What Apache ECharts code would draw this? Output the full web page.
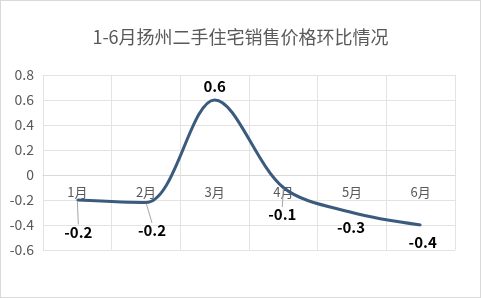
<!DOCTYPE html>
<html>
<head>
<meta charset="utf-8">
<script src="https://cdn.jsdelivr.net/npm/echarts@6/dist/echarts.min.js"></script>
<style>
html,body{margin:0;padding:0;background:#fff;}
#wrap{position:relative;width:481px;height:298px;}
#chart{position:absolute;left:0;top:0;width:481px;height:298px;}
#frame{position:absolute;left:0;top:0;width:481px;height:298px;box-sizing:border-box;border:1px solid #d9d9d9;pointer-events:none;}
</style>
</head>
<body>
<div id="wrap"><div id="chart"></div><div id="frame"></div></div>
<script>
var titleText = '1-6月扬州二手住宅销售价格环比情况';
var months = ['1月', '2月', '3月', '4月', '5月', '6月'];
var changes = [-0.2, -0.22, 0.6, -0.1, -0.3, -0.4];
var yMin = -0.6, yMax = 0.8, yStep = 0.2;

// label placement offsets (style only), relative to each point
var labelDx = [1, 6, 0, -1, -1, 2];
var labelDy = [32, 28, -14, 27, 15, 17];
var showGuide = [true, true, false, true, false, false];

var chart = echarts.init(document.getElementById('chart'), null, {renderer: 'canvas'});
var font = '"Microsoft YaHei","Noto Sans CJK SC","Noto Sans",sans-serif';

var seriesData = changes.map(function (v, i) {
  return {
    value: v,
    labelLine: {show: showGuide[i]}
  };
});

chart.setOption({
  animation: false,
  backgroundColor: '#fff',
  title: {
    text: titleText,
    left: 'center',
    top: 23,
    textStyle: {fontFamily: font, fontSize: 18, fontWeight: 'normal', color: '#595959'}
  },
  grid: {left: 43, right: 26, top: 75, bottom: 48, containLabel: false},
  xAxis: {
    type: 'category',
    data: months,
    boundaryGap: true,
    axisLine: {show: true, onZero: true, lineStyle: {color: '#d9d9d9', width: 1}},
    axisTick: {show: false},
    axisLabel: {color: '#595959', fontSize: 13, fontFamily: font, margin: 11},
    splitLine: {show: true, lineStyle: {color: '#e3e3e3', width: 1}}
  },
  yAxis: {
    type: 'value',
    min: yMin,
    max: yMax,
    interval: yStep,
    axisLine: {show: false},
    axisTick: {show: false},
    axisLabel: {
      color: '#595959', fontSize: 14, fontFamily: font, margin: 9,
      formatter: function (v) { return String(Math.round(v * 10) / 10); }
    },
    splitLine: {lineStyle: {color: '#e3e3e3', width: 1}}
  },
  series: [{
    type: 'line',
    data: seriesData,
    smooth: 0.33,
    smoothConstraint: false,
    symbol: 'circle',
    symbolSize: 2,
    itemStyle: {color: '#3b5b7e'},
    lineStyle: {color: '#3b5b7e', width: 3},
    label: {
      show: true,
      position: 'bottom',
      color: '#000',
      fontWeight: 'bold',
      fontSize: 15,
      fontFamily: font,
      formatter: function (p) { return p.value.toFixed(1); }
    },
    labelLine: {show: false, lineStyle: {color: '#a6a6a6', width: 1}},
    labelLayout: function (params) {
      var i = params.dataIndex;
      var r = params.rect;
      return {
        x: r.x + r.width / 2 + labelDx[i],
        y: r.y + r.height / 2 + labelDy[i],
        align: 'center',
        verticalAlign: 'middle'
      };
    }
  }]
});

// place the category axis on the zero line, measured with the value axis scale
var zeroPx = chart.convertToPixel({yAxisIndex: 0}, 0);
var bottomPx = chart.convertToPixel({yAxisIndex: 0}, yMin);
chart.setOption({xAxis: {offset: zeroPx - bottomPx}});
</script>
</body>
</html>
